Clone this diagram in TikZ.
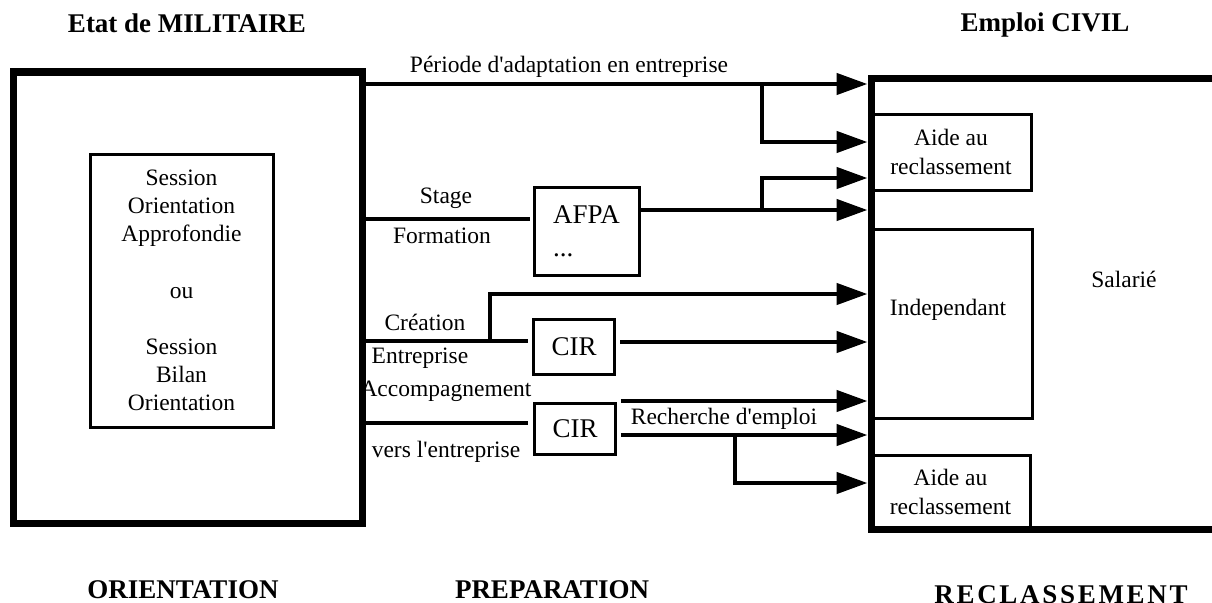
\documentclass[tikz,border=0pt]{standalone}
\usepackage{fontspec}
\setmainfont{Liberation Serif}
\usetikzlibrary{arrows.meta}
\begin{document}
\begin{tikzpicture}[x=1pt,y=-1pt,
  bigbox/.style={draw, line width=7pt, inner sep=0pt},
  box/.style={draw, line width=3pt, inner sep=0pt},
  conn/.style={line width=4.5pt},
  arr/.style={conn, -{Triangle[length=31pt,width=21pt]}},
  body/.style={font=\fontsize{23.5}{29}\selectfont},
  txt/.style={body, inner sep=0pt, anchor=base},
  big/.style={font=\fontsize{27}{33}\selectfont},
  title/.style={font=\fontsize{27}{33}\selectfont\bfseries, inner sep=0pt, anchor=base}]
\clip (0,0) rectangle (1212,602);
\fill[white] (0,0) rectangle (1212,602);

% left block
\node[bigbox, minimum width=349pt, minimum height=451pt] (L) at (187.5,297.5) {};
\node[box, minimum width=183pt, minimum height=273pt, align=center,
      font=\fontsize{23.5}{28}\selectfont] (I) at (181.5,290.5)
  {Session\\Orientation\\Approfondie\\[28.5pt]ou\\[28.5pt]Session\\Bilan\\Orientation};

% right block
\node[bigbox, minimum width=429pt, minimum height=451pt] (R) at (1085.5,303.5) {};
\node[box, body, align=center, minimum width=160.5pt, minimum height=76pt] (A1) at (951,152) {Aide au\\reclassement};
\node[box, minimum width=161pt, minimum height=189pt] (IB) at (951.5,323.5) {};
\node[txt] (IT) at (948,315) {Independant};
\node[box, body, align=center, minimum width=159pt, minimum height=74pt] (A2) at (950.5,492) {Aide au\\reclassement};
\node[txt] (S) at (1124,287) {Salarié};

% middle boxes
\node[box, big, align=left, minimum width=105pt, minimum height=88pt] (AFPA) at (586.5,231) {AFPA\\...};
\node[box, big, minimum width=81.5pt, minimum height=54.5pt] (C1) at (574,347) {CIR};
\node[box, big, minimum width=80.5pt, minimum height=50.5pt] (C2) at (575,429) {CIR};

% connectors
\draw[arr] (L.east |- 0,84) -- (R.west |- 0,84);
\coordinate (b1) at (762,84);
\draw[arr] (b1) |- (R.west |- 0,142);
\draw[arr] (AFPA.east |- 0,210) -- (R.west |- 0,210);
\coordinate (b2) at (762,210);
\draw[arr] (b2) |- (R.west |- 0,178);
\draw[conn, shorten >=3pt] (L.east |- 0,219) -- (AFPA.west |- 0,219);
\draw[conn, shorten >=4pt] (L.east |- 0,341) -- (C1.west |- 0,341);
\coordinate (b3) at (490,341);
\draw[arr] (b3) |- (R.west |- 0,294);
\draw[arr, shorten <=4pt] (C1.east |- 0,342) -- (R.west |- 0,342);
\draw[conn, shorten >=5pt] (L.east |- 0,423) -- (C2.west |- 0,423);
\draw[arr, shorten <=4pt] (C2.east |- 0,401) -- (R.west |- 0,401);
\draw[arr, shorten <=4pt] (C2.east |- 0,435) -- (R.west |- 0,435);
\coordinate (b4) at (735,435);
\draw[arr] (b4) |- (R.west |- 0,483);

% labels
\node[txt] (t1) at (569,73) {Période d\textquotesingle adaptation en entreprise};
\node[txt] (t2) at (446,203) {Stage};
\node[txt] (t3) at (442,243) {Formation};
\node[txt] (t4) at (425,330) {Création};
\node[txt] (t5) at (420,363) {Entreprise};
\node[txt] (t6) at (446,396) {Accompagnement};
\node[txt] (t7) at (446,457) {vers l\textquotesingle entreprise};
\node[txt] (t8) at (724,424) {Recherche d\textquotesingle emploi};

% titles
\node[title] (h1) at (187,33) {Etat de MILITAIRE};
\node[title] (h2) at (1045,32) {Emploi CIVIL};
\node[title] (f1) at (183,598) {ORIENTATION};
\node[title] (f2) at (552,598) {PREPARATION};
\node[title, font=\fontsize{27}{33}\selectfont\bfseries\addfontfeature{LetterSpace=10}] (f3) at (1061,603) {RECLASSEMENT};
\end{tikzpicture}
\end{document}
